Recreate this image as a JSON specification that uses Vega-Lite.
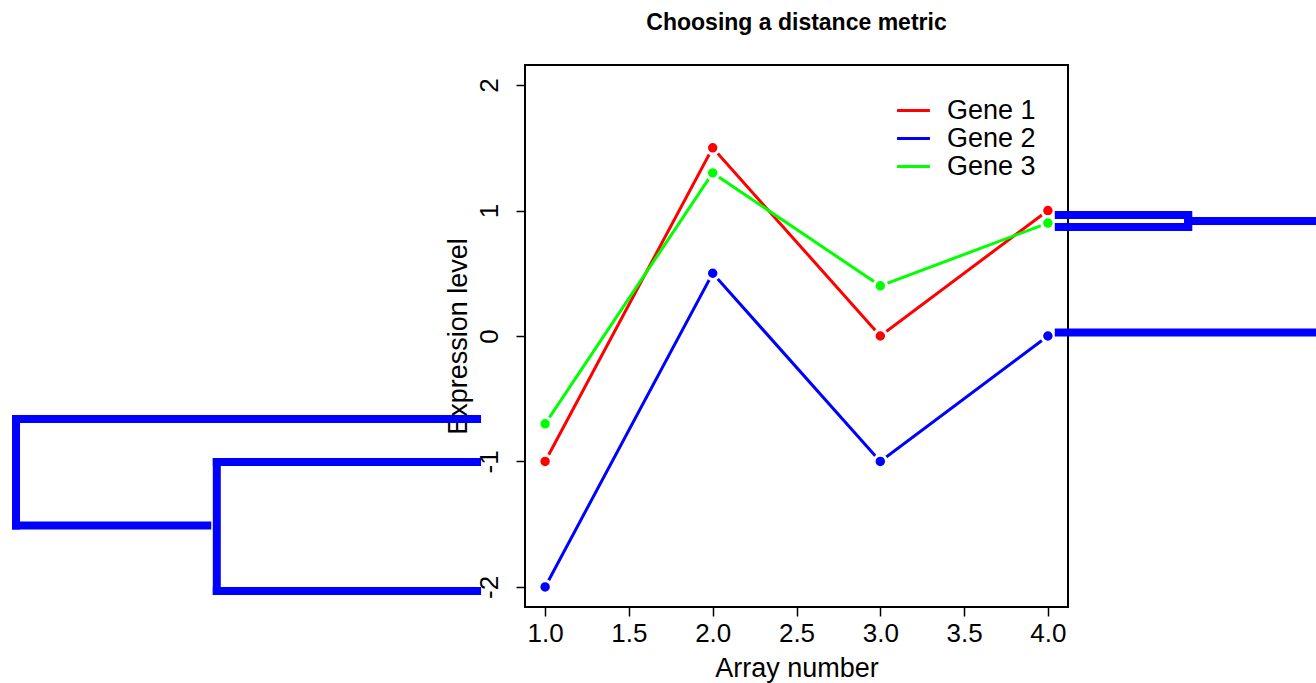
{
  "$schema": "https://vega.github.io/schema/vega-lite/v6.json",
  "autosize": {"type": "none"},
  "padding": {"left": 525, "top": 65, "right": 248, "bottom": 76},
  "width": 543,
  "height": 542,
  "background": "white",
  "config": {
    "font": "Liberation Sans",
    "view": {"stroke": "black", "strokeWidth": 2},
    "axis": {"grid": false, "domain": false, "tickColor": "black", "tickWidth": 1.5, "tickSize": 9, "labelColor": "black", "titleColor": "black", "labelFont": "Liberation Sans", "titleFont": "Liberation Sans", "labelFontSize": 26, "titleFontSize": 27, "titleFontWeight": "normal"}
  },
  "title": {"text": "Choosing a distance metric", "fontSize": 23, "fontWeight": "bold", "font": "Liberation Sans", "color": "black", "offset": 30, "anchor": "middle"},
  "datasets": {
    "genes": [
      {"gene": "Gene 1", "array": 1, "expr": -1},
      {"gene": "Gene 1", "array": 2, "expr": 1.5},
      {"gene": "Gene 1", "array": 3, "expr": 0},
      {"gene": "Gene 1", "array": 4, "expr": 1},
      {"gene": "Gene 2", "array": 1, "expr": -2},
      {"gene": "Gene 2", "array": 2, "expr": 0.5},
      {"gene": "Gene 2", "array": 3, "expr": -1},
      {"gene": "Gene 2", "array": 4, "expr": 0},
      {"gene": "Gene 3", "array": 1, "expr": -0.7},
      {"gene": "Gene 3", "array": 2, "expr": 1.3},
      {"gene": "Gene 3", "array": 3, "expr": 0.4},
      {"gene": "Gene 3", "array": 4, "expr": 0.9}
    ],
    "dendro": [
      {"x1": -2.157, "x2": 0.594, "y1": -0.661, "y2": -0.661},
      {"x1": -2.157, "x2": -2.157, "y1": -0.661, "y2": -1.51},
      {"x1": -2.157, "x2": -1.016, "y1": -1.51, "y2": -1.51},
      {"x1": -0.959, "x2": -0.959, "y1": -1.004, "y2": -2.032},
      {"x1": -0.959, "x2": 0.594, "y1": -1.004, "y2": -1.004},
      {"x1": -0.959, "x2": 0.594, "y1": -2.032, "y2": -2.032},
      {"x1": 4.065, "x2": 4.837, "y1": 0.964, "y2": 0.964},
      {"x1": 4.065, "x2": 4.837, "y1": 0.869, "y2": 0.869},
      {"x1": 4.837, "x2": 4.837, "y1": 0.964, "y2": 0.869},
      {"x1": 4.837, "x2": 5.7, "y1": 0.916, "y2": 0.916},
      {"x1": 4.065, "x2": 5.7, "y1": 0.028, "y2": 0.028}
    ]
  },
  "layer": [
    {
      "data": {"name": "genes"},
      "mark": {"type": "line", "strokeWidth": 3},
      "encoding": {
        "x": {"field": "array", "type": "quantitative", "scale": {"domain": [0.88, 4.12], "nice": false, "zero": false}, "axis": {"values": [1, 1.5, 2, 2.5, 3, 3.5, 4], "format": ".1f", "title": "Array number", "labelPadding": 4, "titlePadding": 9}},
        "y": {"field": "expr", "type": "quantitative", "scale": {"domain": [-2.16, 2.16], "nice": false, "zero": false}, "axis": {"values": [-2, -1, 0, 1, 2], "labelExpr": "toString(datum.value)", "title": "Expression level", "labelAngle": -90, "labelAlign": "center", "labelBaseline": "bottom", "labelPadding": 14, "titlePadding": 4}},
        "color": {"field": "gene", "type": "nominal", "scale": {"domain": ["Gene 1", "Gene 2", "Gene 3"], "range": ["#FF0000", "#0000FF", "#00FF00"]},
          "legend": {"title": null, "orient": "none", "legendX": 374, "legendY": 31, "symbolType": "M-1.3,0H1.3", "symbolStrokeWidth": 3, "symbolSize": 640, "labelFontSize": 27, "labelColor": "black", "labelOffset": 19, "rowPadding": -1, "labelFont": "Liberation Sans"}}
      }
    },
    {
      "data": {"name": "genes"},
      "mark": {"type": "point", "filled": true, "size": 155, "stroke": "white", "strokeWidth": 3, "opacity": 1, "strokeOpacity": 1},
      "encoding": {
        "x": {"field": "array", "type": "quantitative", "scale": {"domain": [0.88, 4.12], "nice": false, "zero": false}},
        "y": {"field": "expr", "type": "quantitative", "scale": {"domain": [-2.16, 2.16], "nice": false, "zero": false}},
        "fill": {"field": "gene", "type": "nominal", "scale": {"domain": ["Gene 1", "Gene 2", "Gene 3"], "range": ["#FF0000", "#0000FF", "#00FF00"]}, "legend": null}
      }
    },
    {
      "data": {"name": "dendro"},
      "mark": {"type": "rule", "color": "#0000FF", "strokeWidth": 8, "strokeCap": "square", "clip": false},
      "encoding": {
        "x": {"field": "x1", "type": "quantitative", "scale": {"domain": [0.88, 4.12], "nice": false, "zero": false}},
        "x2": {"field": "x2"},
        "y": {"field": "y1", "type": "quantitative", "scale": {"domain": [-2.16, 2.16], "nice": false, "zero": false}},
        "y2": {"field": "y2"}
      }
    }
  ]
}
